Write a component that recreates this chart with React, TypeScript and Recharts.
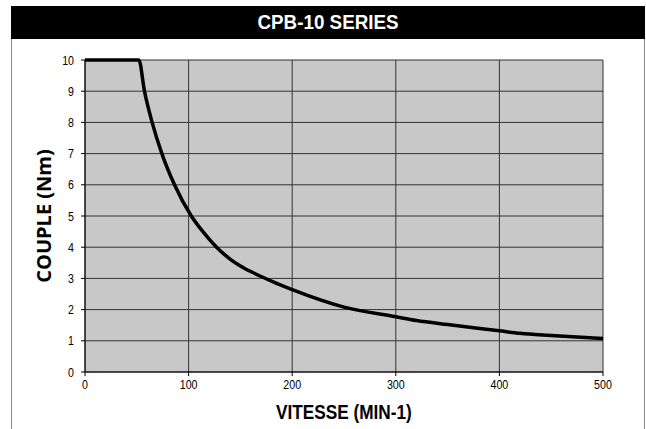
import React from "react";
import { LineChart, Line, XAxis, YAxis, CartesianGrid } from "recharts";

const speeds = [0, 52, 57.4, 64.8, 74.2, 86.4, 102.6, 115, 127, 140, 150, 160, 170, 185, 200, 250, 300, 320, 350, 400, 420, 450, 500];
const torques = [10, 10, 9, 8, 7, 6, 5, 4.45, 4, 3.62, 3.4, 3.22, 3.06, 2.84, 2.64, 2.08, 1.77, 1.65, 1.52, 1.32, 1.24, 1.17, 1.07];
const xTicks = [0, 100, 200, 300, 400, 500];
const yTicks = [0, 1, 2, 3, 4, 5, 6, 7, 8, 9, 10];

const data = speeds.map((speed, i) => ({ speed, torque: torques[i] }));

const sans = '"Liberation Sans", Arial, sans-serif';

// Narrow-looking tick labels (Arial Narrow in the original)
const NarrowTick = (props: any) => {
  const { x, y, payload, textAnchor, orientation } = props;
  const dy = orientation === "bottom" ? "0.71em" : "0.355em";
  return (
    <g transform={`translate(${x},${y})`}>
      <text
        transform="scale(0.82,1)"
        textAnchor={textAnchor}
        dy={dy}
        fontSize={13}
        fontFamily={sans}
        fill="#000"
      >
        {payload.value}
      </text>
    </g>
  );
};

export default function App() {
  return (
    <div style={{ position: "absolute", left: 0, top: 0, width: 646, height: 429, background: "#fff", overflow: "hidden" }}>
      <div
        style={{
          position: "absolute", left: 11, top: 6, width: 634, height: 33, background: "#000",
          display: "flex", alignItems: "center", justifyContent: "center",
        }}
      >
        <span style={{ color: "#fff", fontFamily: sans, fontWeight: "bold", fontSize: 20, transform: "scaleX(0.94)", whiteSpace: "nowrap" }}>
          CPB-10 SERIES
        </span>
      </div>
      <div style={{ position: "absolute", left: 11, top: 39, width: 1, height: 390, background: "#888" }} />
      <div style={{ position: "absolute", left: 644, top: 39, width: 1, height: 390, background: "#888" }} />

      <div style={{ position: "absolute", left: 0, top: 0 }}>
        <LineChart width={646} height={429} data={data} margin={{ top: 60, right: 43, bottom: 27, left: 25 }}>
          <CartesianGrid stroke="#333" fill="#c8c8c8" fillOpacity={1} />
          <XAxis
            dataKey="speed"
            type="number"
            domain={[0, 500]}
            ticks={xTicks}
            height={30}
            tickSize={4}
            tickMargin={4}
            stroke="#000"
            tick={<NarrowTick orientation="bottom" />}
          />
          <YAxis
            type="number"
            domain={[0, 10]}
            ticks={yTicks}
            width={60}
            tickSize={4}
            tickMargin={7}
            stroke="#000"
            tick={<NarrowTick orientation="left" />}
          />
          <Line
            type="monotone"
            dataKey="torque"
            stroke="#000"
            strokeWidth={3.5}
            dot={false}
            isAnimationActive={false}
          />
        </LineChart>
      </div>

      <div style={{ position: "absolute", left: 85, top: 400, width: 518, display: "flex", justifyContent: "center" }}>
        <span
          style={{
            fontFamily: sans, fontWeight: "bold", fontSize: 20, lineHeight: "24px", color: "#000",
            transform: "scaleX(0.86)", whiteSpace: "nowrap",
          }}
        >
          VITESSE (MIN-1)
        </span>
      </div>
      <div
        style={{
          position: "absolute", left: 43, top: 216, transform: "translate(-50%, -50%) rotate(-90deg)",
          whiteSpace: "nowrap", fontFamily: '"Open Sans", sans-serif', fontWeight: "bold", fontSize: 20, color: "#000",
        }}
      >
        COUPLE (Nm)
      </div>
    </div>
  );
}
